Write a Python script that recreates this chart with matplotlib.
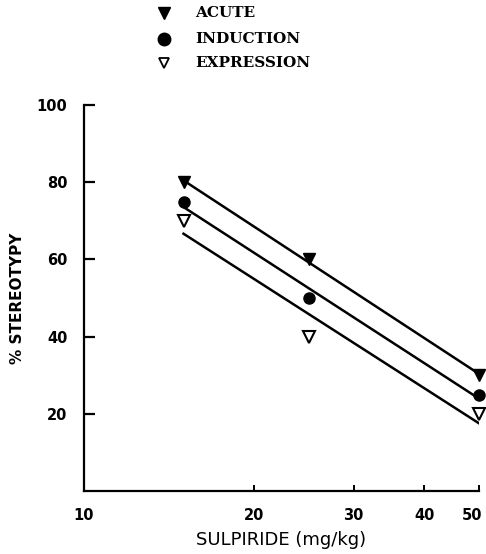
import numpy as np
import matplotlib
matplotlib.use("Agg")
import matplotlib.pyplot as plt
from matplotlib.ticker import FixedLocator, FixedFormatter, NullLocator
from matplotlib.transforms import ScaledTranslation

dose = [15, 25, 50]
acute = [80, 60, 30]
induction = [75, 50, 25]
expression = [70, 40, 20]
series_names = ["ACUTE", "INDUCTION", "EXPRESSION"]
x_ticks = [10, 20, 30, 40, 50]
y_ticks = [20, 40, 60, 80, 100]

fig = plt.figure(figsize=(4.86, 5.54), dpi=100)
ax = fig.add_axes([84/486, 1-491/554, (479-84)/486, (491-105)/554])
ax.set_xscale("log")
ax.set_xlim(10, 50)
ax.set_ylim(0, 100)

markers = [dict(marker="v", mfc="black", mec="black", ms=8),
           dict(marker="o", mfc="black", mec="black", ms=8),
           dict(marker="v", mfc="white", mec="black", ms=8, mew=1.5)]
xs = np.array(dose, dtype=float)
lx = np.log10(xs)
for ys, mk in zip([acute, induction, expression], markers):
    ax.plot(xs, ys, linestyle="none", clip_on=False, zorder=3, **mk)
    p = np.polyfit(lx, ys, 1)
    ax.plot(xs[[0, -1]], np.polyval(p, lx[[0, -1]]), color="black", lw=1.8, zorder=2)

for s in ["top", "right"]:
    ax.spines[s].set_visible(False)
for s in ["left", "bottom"]:
    ax.spines[s].set_linewidth(1.6)

ax.xaxis.set_major_locator(FixedLocator(x_ticks))
ax.xaxis.set_major_formatter(FixedFormatter([str(t) for t in x_ticks]))
ax.xaxis.set_minor_locator(NullLocator())
ax.set_yticks(y_ticks)
ax.tick_params(axis="y", direction="in", length=8, width=1.6, pad=12, labelsize=10.5)
ax.tick_params(axis="x", direction="in", length=4, width=1.4, pad=12, labelsize=10.5)
for lab in ax.get_xticklabels() + ax.get_yticklabels():
    lab.set_fontweight("bold")
    lab.set_family("DejaVu Sans")
fig.canvas.draw()
last = ax.get_xticklabels()[-1]
last.set_transform(last.get_transform() + ScaledTranslation(-7/100, 0, fig.dpi_scale_trans))

ax.set_xlabel("SULPIRIDE (mg/kg)", fontsize=13, fontweight="medium", labelpad=6)
ax.set_ylabel("% STEREOTYPY", fontsize=11, fontweight="bold", labelpad=8)

# legend
leg_y = [13, 39, 63]
leg_markers = [dict(marker="v", mfc="black", mec="black", ms=8),
               dict(marker="o", mfc="black", mec="black", ms=9),
               dict(marker="v", mfc="white", mec="black", ms=7, mew=1.3)]
for name, mk, yy in zip(series_names, leg_markers, leg_y):
    fig.lines.append(matplotlib.lines.Line2D([164/486], [1-yy/554], transform=fig.transFigure,
                                             linestyle="none", **mk))
    fig.text(195/486, 1-yy/554, name, fontsize=11, fontweight="bold",
             family="DejaVu Serif", va="center", ha="left")

fig.savefig("out.png", dpi=100)
